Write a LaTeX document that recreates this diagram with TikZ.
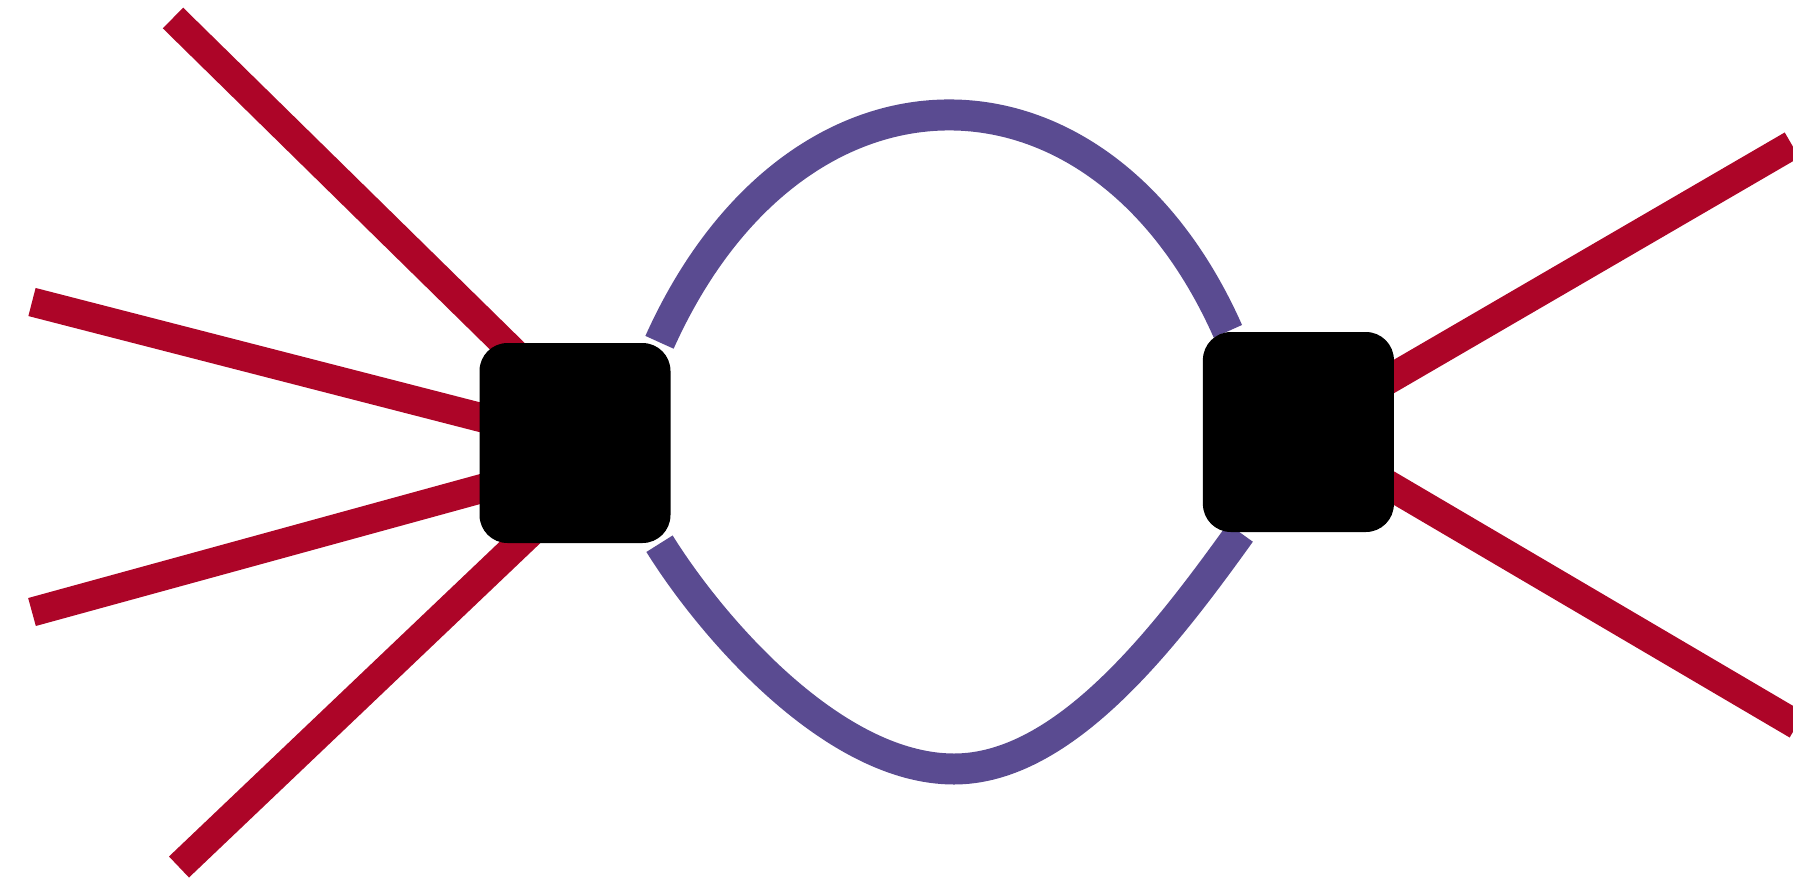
\documentclass[tikz,border=0pt]{standalone}
\usepackage{xcolor}
\usepackage{tikz}
\usetikzlibrary{positioning,backgrounds}
\definecolor{Leg}{HTML}{AD0528}
\definecolor{Bond}{HTML}{5A4B91}
\tikzset{
  tensor/.style={fill=black,rounded corners=2.8mm,minimum width=19.1mm,minimum height=20mm,inner sep=0pt},
  leg/.style={draw=Leg,line width=2.9mm},
  bond/.style={draw=Bond,line width=3.1mm}
}
\begin{document}
\begin{tikzpicture}[x=.1mm,y=-.1mm]
  \useasboundingbox (0,0) rectangle (1793,882);
  \node[tensor] (lbox) at (575,443) {};
  \node[tensor,right=53.1mm of lbox,yshift=1.1mm] (rbox) {};
  \coordinate (hub) at (615,452);
  \coordinate (l1) at (173,18);
  \coordinate (l2) at (32,302);
  \coordinate (l3) at (32,612);
  \coordinate (l4) at (179,867);
  \coordinate (r1) at (1792,145);
  \coordinate (r2) at (1797,725);
  \coordinate (bot) at (954,769);
  \begin{scope}[on background layer]
    \foreach \e in {l1,l2,l3,l4} \draw[leg] (hub) -- (\e);
    \foreach \e in {r1,r2} \draw[leg] (rbox.center) -- (\e);
    \draw[bond] (lbox.50) .. controls (795,41) and (1099,41) .. (rbox.125);
    \draw[bond] (lbox.-50) .. controls (712,628) and (834,769) .. (bot)
      .. controls (1064,769) and (1164,639) .. (rbox.240);
  \end{scope}
\end{tikzpicture}
\end{document}
